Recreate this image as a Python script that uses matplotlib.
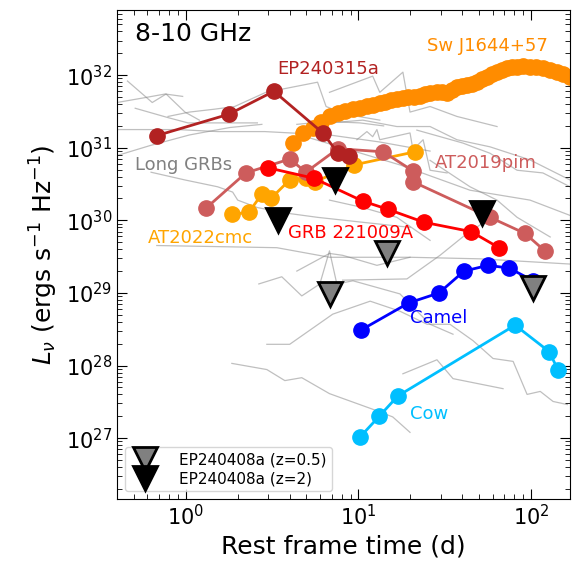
import matplotlib
matplotlib.use("Agg")
import matplotlib.pyplot as plt
from matplotlib.lines import Line2D

# ---- data (rest frame time in days, L_nu in erg/s/Hz) ----
sw_t = [4.17, 4.77, 5.45, 6.06, 6.84, 7.61, 8.35, 9.29, 10.2, 11.2,
        12.1, 13.3, 14.2, 15.4, 16.7, 18.1, 19.4, 21.0, 22.7, 24.3,
        26.0, 28.5, 30.5, 32.6, 34.8, 37.2, 39.8, 42.6, 45.5, 48.6,
        52.0, 55.6, 59.4, 63.5, 67.9, 72.6, 77.6, 83.0, 89.9, 98.7,
        107, 117, 129, 141, 153, 168]
sw_L = [1.16e31, 1.59e31, 1.86e31, 2.25e31, 2.73e31, 3.0e31, 3.19e31, 3.40e31, 3.51e31, 3.74e31,
        3.86e31, 4.11e31, 4.25e31, 4.53e31, 4.67e31, 4.82e31, 4.98e31, 4.98e31, 5.14e31, 5.47e31,
        5.65e31, 5.83e31, 5.83e31, 5.65e31, 6.21e31, 6.84e31, 7.05e31, 7.28e31, 7.51e31, 8.01e31,
        8.81e31, 9.38e31, 1.03e32, 1.10e32, 1.17e32, 1.25e32, 1.29e32, 1.29e32, 1.33e32, 1.29e32,
        1.29e32, 1.25e32, 1.17e32, 1.10e32, 1.03e32, 9.38e31]

cmc_t = [1.85, 2.32, 2.76, 3.11, 4.0, 4.96, 5.6, 9.42, 21.3]
cmc_L = [1.21e30, 1.29e30, 2.3e30, 2.0e30, 3.6e30, 3.8e30, 3.4e30, 5.8e30, 8.8e30]

pim_t = [1.31, 2.23, 4.01, 4.96, 7.6, 13.9, 20.7, 20.7, 57.8, 92.3, 120]
pim_L = [1.47e30, 4.5e30, 7.0e30, 4.6e30, 9.7e30, 8.8e30, 4.8e30, 3.4e30, 1.1e30, 6.6e29, 3.8e29]

ep315_t = [0.68, 1.78, 3.24, 6.22, 7.6, 8.8]
ep315_L = [1.47e31, 2.9e31, 6.0e31, 1.6e31, 8.5e30, 7.8e30]

grb_t = [2.99, 5.52, 10.6, 14.8, 24.0, 44.9, 65.2]
grb_L = [5.3e30, 3.8e30, 1.84e30, 1.42e30, 9.4e29, 7.0e29, 4.2e29]

camel_t = [10.3, 19.6, 29.3, 40.9, 56.4, 74.5, 103]
camel_L = [3.06e28, 7.3e28, 1.0e29, 2.0e29, 2.4e29, 2.2e29, 1.47e29]

cow_t = [10.2, 13.2, 16.9, 80.8, 127, 143]
cow_L = [1.03e27, 2.0e27, 3.8e27, 3.6e28, 1.56e28, 8.8e27]

ep408_z05_t = [6.84, 14.6, 103]
ep408_z05_L = [9.7e28, 3.5e29, 1.17e29]
ep408_z2_t = [3.42, 7.3, 52]
ep408_z2_L = [1.0e30, 3.6e30, 1.25e30]

# long GRB light curves (grey background)
grbs = [
    ([0.46, 0.64, 0.77, 0.99, 1.2], [8.3e31, 4.2e31, 5.5e31, 3.1e31, 2.4e31]),
    ([0.40, 0.58, 0.76, 0.96], [4.2e31, 4.9e31, 5.5e31, 5.1e31]),
    ([0.51, 0.79, 1.03, 1.75, 2.6], [3.5e31, 2.6e31, 2.2e31, 2.2e31, 2.2e31]),
    ([0.79, 1.05, 1.47, 1.92, 2.91, 5.8, 6.5, 8.4, 13.3],
     [2.7e31, 3.1e31, 3.4e31, 3.7e31, 5.8e31, 8.0e31, 3.7e31, 2.9e31, 2.4e31]),
    ([6.8, 12.1, 13.3, 18.1, 19.9, 26, 37.2, 63.5],
     [5.8e31, 9.7e31, 5.8e31, 1.1e32, 3.1e31, 3.7e31, 2.7e31, 1.96e31]),
    ([6.8, 10.6, 16.7, 26, 37.2, 57.8, 98.6, 168],
     [2.2e31, 2.4e31, 1.96e31, 1.96e31, 1.29e31, 1.03e31, 6.8e30, 3.6e30]),
    ([9.8, 11.2, 12.1, 12.8, 13.3, 19.9, 20.7, 23.7, 26, 32.6],
     [1.29e31, 1.67e31, 1.42e31, 1.78e31, 1.29e31, 1.6e31, 9.4e30, 1.29e31, 4.9e30, 4.5e30]),
    ([4.58, 17.4, 44.3, 98.6, 168], [1.5e31, 5.8e30, 2.6e30, 1.9e30, 1.17e30]),
    ([21.8, 40.3, 57.8, 83, 117, 168], [1.75e31, 1.16e31, 8.4e30, 4.9e30, 4.5e30, 2.9e30]),
    ([26, 44.3, 63.5, 83, 129], [6.7e30, 2.9e30, 1.9e30, 1.1e30, 5.9e29]),
    ([6.8, 10.6, 16.7, 26], [1.9e30, 1.5e30, 1.1e30, 5.3e29]),
    ([0.68, 3.37, 6.8, 19.9, 50.6, 168], [4.5e29, 4.2e29, 3.1e29, 3.1e29, 2.95e29, 2.5e29]),
    ([2.65, 3.6, 4.7, 5.98, 6.8, 7.5, 9.3, 17.4, 26, 35.3],
     [1.33e29, 1.67e29, 9.1e28, 1.33e29, 3.8e29, 1.33e29, 1.47e29, 9.7e28, 3.7e28, 2.7e28]),
    ([4.4, 6.8, 8.1, 12.8, 19.9], [2.0e29, 3.5e29, 3.3e29, 2.4e29, 3.1e29]),
    ([8.1, 19.1, 29.7, 42.6, 55.6], [1.5e29, 1.56e29, 3.3e29, 6.6e29, 1.0e30]),
    ([2.95, 4.0, 7.1, 11.7, 17.4, 25, 33.9, 46.1, 60.2, 78.7, 94.8, 113, 134, 162],
     [1.96e28, 1.96e28, 5.1e28, 7.7e28, 5.6e28, 3.7e28, 3.7e28, 2.2e28, 1.25e28, 1.14e28,
      4.0e27, 4.4e27, 3.2e27, 2.9e27]),
    ([18.1, 28.5, 35.3, 68.8], [7.7e27, 1.2e28, 6.6e27, 4.8e27]),
    ([1.85, 2.95, 3.75, 4.7, 6.8, 12.1, 15.8, 19.9],
     [1.07e28, 8.8e27, 6.2e27, 6.8e27, 4.1e27, 2.5e27, 1.96e27, 1.2e27]),
    ([0.63, 0.99, 1.53, 1.87, 2.0, 2.6, 3.9, 5.8, 10.6, 19.9],
     [4.6e30, 3.6e30, 2.9e30, 2.45e30, 1.9e30, 1.5e30, 1.25e30, 1.1e30, 9.4e29, 8e29]),
    ([0.40, 0.62, 1.05, 1.8, 2.76], [7.8e30, 1.07e31, 1.5e31, 1.9e31, 2.1e31]),
    ([0.40, 0.9, 1.53, 2.87, 6.8, 13.3, 26], [1.78e31, 1.78e31, 1.67e31, 1.67e31, 1.5e31, 1.2e31, 9e30]),
    ([4.4, 6.5, 10.2, 14], [2.1e31, 2.3e31, 2.2e31, 2.0e31]),
]

fig = plt.figure(figsize=(5.77, 5.70), dpi=100)
ax = fig.add_axes([117 / 577, 71 / 570, 453 / 577, 489 / 570])

for t, L in grbs:
    ax.plot(t, L, color="gray", alpha=0.5, lw=0.9, zorder=1)

ms = 11
ax.plot(sw_t, sw_L, "o-", color="darkorange", ms=ms, lw=2, zorder=2)
ax.plot(cmc_t, cmc_L, "o-", color="orange", ms=ms, lw=2, zorder=3)
ax.plot(pim_t, pim_L, "o-", color="indianred", ms=ms, lw=2, zorder=4)
ax.plot(ep315_t, ep315_L, "o-", color="firebrick", ms=ms, lw=2, zorder=5)
ax.plot(grb_t, grb_L, "o-", color="red", ms=ms, lw=2, zorder=6)
ax.plot(camel_t, camel_L, "o-", color="blue", ms=ms, lw=2, zorder=6)
ax.plot(cow_t, cow_L, "o-", color="deepskyblue", ms=ms, lw=2, zorder=6)

ax.plot(ep408_z05_t, ep408_z05_L, "v", ms=17, mfc="gray", mec="black", mew=2, zorder=8)
ax.plot(ep408_z2_t, ep408_z2_L, "v", ms=17, mfc="black", mec="black", mew=2, zorder=8)

ax.set_xscale("log")
ax.set_yscale("log")
ax.set_xlim(0.4, 168)
ax.set_ylim(1.45e26, 7.9e32)

ax.text(0.04, 0.975, "8-10 GHz", transform=ax.transAxes, fontsize=18, va="top")
lab = dict(fontsize=13, va="center")
ax.text(3.37, 1.2e32, "EP240315a", color="firebrick", **lab)
ax.text(25, 2.5e32, "Sw J1644+57", color="darkorange", **lab)
ax.text(0.51, 5.8e30, "Long GRBs", color="gray", **lab)
ax.text(27.7, 6.2e30, "AT2019pim", color="indianred", **lab)
ax.text(0.6, 5.8e29, "AT2022cmc", color="orange", **lab)
ax.text(3.9, 6.8e29, "GRB 221009A", color="red", **lab)
ax.text(19.9, 4.5e28, "Camel", color="blue", **lab)
ax.text(19.9, 2.15e27, "Cow", color="deepskyblue", **lab)

ax.tick_params(which="both", direction="in", top=True, right=True, labelsize=15)
ax.tick_params(which="major", length=7)
ax.tick_params(which="minor", length=3.5)
ax.set_xlabel("Rest frame time (d)", fontsize=18)
ax.set_ylabel(r"$L_\nu$ (ergs s$^{-1}$ Hz$^{-1}$)", fontsize=18)

handles = [
    Line2D([], [], marker="v", ls="none", ms=17, mfc="gray", mec="black", mew=2),
    Line2D([], [], marker="v", ls="none", ms=17, mfc="black", mec="black", mew=2),
]
ax.legend(handles, ["EP240408a (z=0.5)", "EP240408a (z=2)"], loc="lower left",
          fontsize=11, labelspacing=0.25, handletextpad=1.2, borderpad=0.35)

fig.savefig("out.png", dpi=100)
